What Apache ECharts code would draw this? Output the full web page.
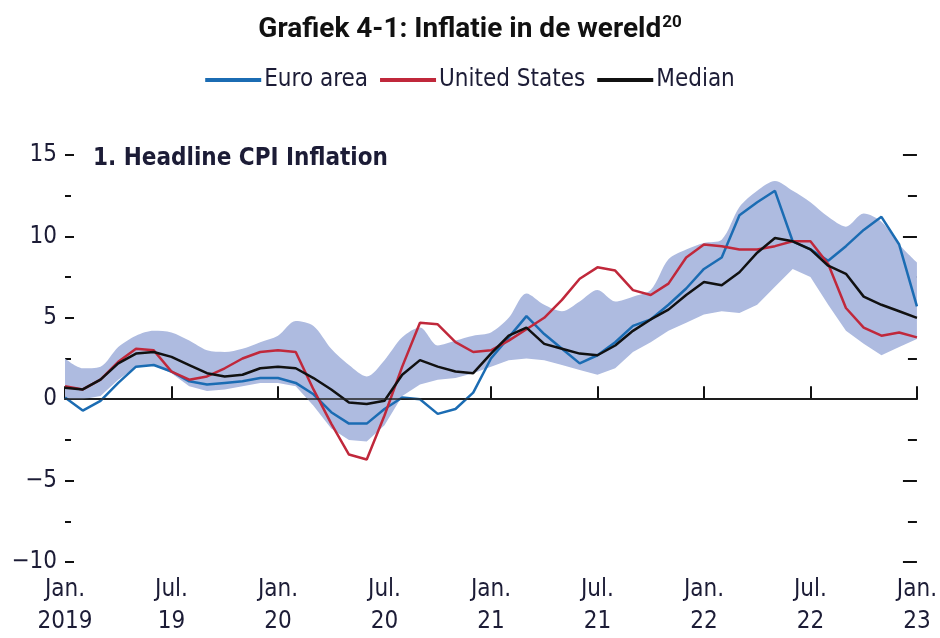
<!DOCTYPE html>
<html>
<head>
    <meta charset="utf-8">
    <title>Inflatie in de wereld</title>
    <script src="https://cdn.jsdelivr.net/npm/echarts@6/dist/echarts.min.js"></script>
    <style>
        html, body { margin: 0; padding: 0; background: #fff; }
        #main { width: 940px; height: 638px; }
    </style>
</head>
<body>
<div id="main"></div>
<script>
    // months Jan 2019 .. Jan 2023
    var months = [
        '2019-01','2019-02','2019-03','2019-04','2019-05','2019-06','2019-07','2019-08','2019-09','2019-10','2019-11','2019-12',
        '2020-01','2020-02','2020-03','2020-04','2020-05','2020-06','2020-07','2020-08','2020-09','2020-10','2020-11','2020-12',
        '2021-01','2021-02','2021-03','2021-04','2021-05','2021-06','2021-07','2021-08','2021-09','2021-10','2021-11','2021-12',
        '2022-01','2022-02','2022-03','2022-04','2022-05','2022-06','2022-07','2022-08','2022-09','2022-10','2022-11','2022-12',
        '2023-01'
    ];
    var tickLabels = ['Jan.\n2019', 'Jul.\n19', 'Jan.\n20', 'Jul.\n20', 'Jan.\n21', 'Jul.\n21', 'Jan.\n22', 'Jul.\n22', 'Jan.\n23'];

    var euroArea = [
        0.1, -0.7, -0.1, 1.0, 2.0, 2.1, 1.7, 1.1, 0.9, 1.0, 1.1, 1.3,
        1.3, 1.0, 0.3, -0.8, -1.5, -1.5, -0.6, 0.1, 0.0, -0.9, -0.6, 0.4,
        2.5, 3.8, 5.1, 4.0, 3.1, 2.2, 2.7, 3.5, 4.5, 4.9, 5.8, 6.8,
        8.0, 8.7, 11.3, 12.1, 12.8, 9.7, 9.2, 8.5, 9.4, 10.4, 11.2, 9.5,
        5.7
    ];
    var unitedStates = [
        0.8, 0.6, 1.2, 2.3, 3.1, 3.0, 1.7, 1.2, 1.4, 1.9, 2.5, 2.9,
        3.0, 2.9, 0.6, -1.5, -3.4, -3.7, -1.0, 2.0, 4.7, 4.6, 3.5, 2.9,
        3.0, 3.6, 4.3, 5.0, 6.1, 7.4, 8.1, 7.9, 6.7, 6.4, 7.1, 8.7,
        9.5, 9.4, 9.2, 9.2, 9.4, 9.7, 9.7, 8.3, 5.6, 4.4, 3.9, 4.1,
        3.8
    ];
    var median = [
        0.7, 0.6, 1.2, 2.2, 2.8, 2.9, 2.6, 2.1, 1.6, 1.4, 1.5, 1.9,
        2.0, 1.9, 1.3, 0.6, -0.2, -0.3, -0.1, 1.5, 2.4, 2.0, 1.7, 1.6,
        2.8, 3.9, 4.4, 3.4, 3.1, 2.8, 2.7, 3.3, 4.2, 4.9, 5.5, 6.4,
        7.2, 7.0, 7.8, 9.0, 9.9, 9.7, 9.2, 8.2, 7.7, 6.3, 5.8, 5.4,
        5.0
    ];
    // shaded range across countries
    var rangeLow = [
        0.0, 0.0, 0.2, 1.2, 2.0, 2.1, 1.6, 0.8, 0.5, 0.6, 0.8, 1.0,
        1.0, 0.8, -0.4, -1.8, -2.5, -2.6, -1.6, 0.2, 0.9, 1.2, 1.3, 1.6,
        2.0, 2.4, 2.5, 2.4, 2.1, 1.8, 1.5, 1.9, 2.9, 3.5, 4.2, 4.7,
        5.2, 5.4, 5.3, 5.8, 6.9, 8.0, 7.5, 5.8, 4.2, 3.4, 2.7, 3.2,
        3.7
    ];
    var rangeHigh = [
        2.5, 1.9, 2.0, 3.2, 3.9, 4.2, 4.1, 3.6, 3.0, 2.9, 3.1, 3.5,
        3.9, 4.8, 4.5, 3.1, 2.1, 1.4, 2.4, 3.8, 4.4, 3.3, 3.6, 3.9,
        4.1, 5.0, 6.5, 5.8, 5.4, 6.0, 6.7, 6.0, 6.3, 6.7, 8.6, 9.2,
        9.6, 9.8, 11.8, 12.8, 13.4, 12.8, 12.1, 11.2, 10.6, 11.4, 10.9, 9.5,
        8.4
    ];

    var rangeDiff = rangeHigh.map(function (v, i) { return +(v - rangeLow[i]).toFixed(2); });

    var textFont = "'Liberation Sans Narrow', 'DejaVu Sans Condensed', 'Roboto', sans-serif";
    var textColor = '#1c1c36';

    var myChart = echarts.init(document.getElementById('main'));

    var tickStyle = { color: '#111', width: 2 };

    var option = {
        animation: false,
        backgroundColor: '#fff',
        title: [{
            text: '{t|Grafiek 4-1: Inflatie in de wereld}{s|20}',
            left: 'center',
            top: 9,
            textStyle: {
                rich: {
                    t: { fontFamily: 'Roboto', fontWeight: 'bold', fontSize: 28, color: '#111' },
                    s: { fontFamily: 'Roboto', fontWeight: 'bold', fontSize: 17, color: '#111', verticalAlign: 'top', padding: [0, 0, 14, 1] }
                }
            }
        }, {
            text: '1. Headline CPI Inflation',
            left: 88,
            top: 142,
            textStyle: { fontFamily: textFont, fontWeight: 'bold', fontSize: 24, color: textColor }
        }],
        legend: {
            data: ['Euro area', 'United States', 'Median'],
            top: 63,
            left: 'center',
            icon: 'rect',
            itemWidth: 56,
            itemHeight: 4,
            itemGap: 12,
            textStyle: { fontFamily: textFont, fontSize: 24, color: textColor, padding: [0, 0, 0, -2] }
        },
        grid: {
            left: 65,
            right: 23,
            top: 155,
            bottom: 76
        },
        xAxis: {
            type: 'category',
            data: months,
            boundaryGap: false,
            axisLine: { lineStyle: { color: '#111', width: 2 } },
            axisTick: { show: true, inside: true, length: 13, interval: 5, lineStyle: tickStyle },
            axisLabel: {
                interval: 5,
                margin: 12,
                fontFamily: textFont,
                fontSize: 24,
                lineHeight: 32,
                color: textColor,
                formatter: function (value, index) {
                    return tickLabels[index / 6];
                }
            },
            splitLine: { show: false }
        },
        yAxis: [{
            type: 'value',
            position: 'left',
            min: -10,
            max: 15,
            interval: 5,
            splitLine: { show: false },
            axisLine: { show: false },
            axisTick: { show: true, inside: true, length: 9, lineStyle: tickStyle },
            minorTick: { show: true, splitNumber: 2, length: 6, lineStyle: tickStyle },
            axisLabel: {
                margin: 8,
                fontFamily: textFont,
                fontSize: 24,
                color: textColor,
                formatter: function (v) { return v < 0 ? '\u2212' + Math.abs(v) : String(v); }
            }
        }, {
            type: 'value',
            position: 'right',
            min: -10,
            max: 15,
            interval: 5,
            splitLine: { show: false },
            axisLine: { show: false },
            axisTick: { show: true, inside: true, length: 14, lineStyle: tickStyle },
            minorTick: { show: true, splitNumber: 2, length: 9, lineStyle: tickStyle },
            axisLabel: { show: false }
        }],
        series: [
            {
                name: 'rangeLow',
                type: 'line',
                data: rangeLow,
                stack: 'range',
                stackStrategy: 'all',
                symbol: 'none',
                lineStyle: { opacity: 0 },
                silent: true,
                z: 1
            },
            {
                name: 'range',
                type: 'line',
                data: rangeDiff,
                stack: 'range',
                stackStrategy: 'all',
                symbol: 'none',
                smooth: 0.3,
                lineStyle: { opacity: 0 },
                areaStyle: { color: '#aebbe0', opacity: 1 },
                silent: true,
                z: 1
            },
            {
                name: 'Euro area',
                type: 'line',
                data: euroArea,
                symbol: 'none',
                color: '#1b6cb3',
                lineStyle: { width: 2.5, color: '#1b6cb3' },
                z: 3
            },
            {
                name: 'United States',
                type: 'line',
                data: unitedStates,
                symbol: 'none',
                color: '#c0283b',
                lineStyle: { width: 2.5, color: '#c0283b' },
                z: 3
            },
            {
                name: 'Median',
                type: 'line',
                data: median,
                symbol: 'none',
                color: '#111111',
                lineStyle: { width: 2.5, color: '#111111' },
                z: 4,
                markLine: {
                    silent: true,
                    symbol: 'none',
                    label: { show: false },
                    lineStyle: { color: '#222', width: 1.5, type: 'solid' },
                    data: [{ yAxis: 0 }]
                }
            }
        ]
    };

    myChart.setOption(option);
</script>
</body>
</html>
